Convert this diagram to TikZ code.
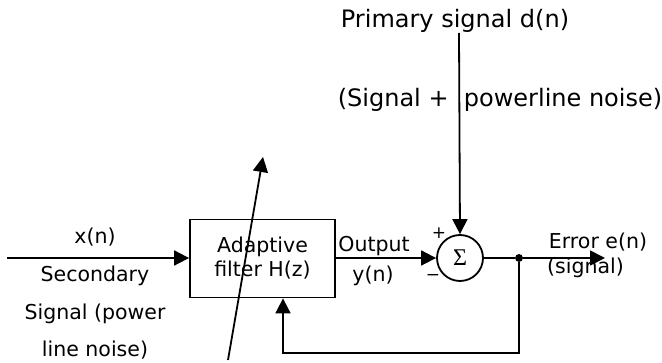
\documentclass[tikz,border=0pt]{standalone}
\usepackage{fontspec}
\setmainfont{DejaVu Sans}
\newfontfamily\sigmafont{Liberation Serif}
\usetikzlibrary{positioning,arrows.meta}

\begin{document}
\begin{tikzpicture}[x=1pt, y=-1pt,
        font=\fontsize{20.5}{24}\selectfont,
        block/.style={rectangle, draw, line width=1.8pt, minimum width=145pt, minimum height=78pt, align=center},
        summer/.style={circle, draw, line width=1.8pt, minimum size=46pt, inner sep=0pt},
        arrow/.style={-{Triangle[length=15pt, width=15pt]}, line width=1.8pt},
        lbl/.style={inner sep=0pt},
        toplbl/.style={inner sep=0pt, font=\fontsize{24}{28}\selectfont}
    ]
        \useasboundingbox (0,0) rectangle (662,363);

        \node[block] (filt) at (262.5,258.5) {Adaptive\\filter H(z)};
        \node[summer] (sum) at (460,258) {\sigmafont\fontsize{24}{24}\selectfont Σ};
        \node[circle, fill, inner sep=2.8pt] (jn) at (519,258) {};

        \coordinate (in) at (7,258);
        \coordinate (err) at (605,258);
        \coordinate (prim) at (459,33);
        \coordinate (fb) at (283,353);
        \coordinate (adl) at (228,360);
        \coordinate (adu) at (263,157);

        \draw[arrow] (in) -- (in -| filt.west);
        \draw[arrow] (filt.east |- sum) -- (sum.west);
        \draw[arrow] (prim) -- (sum.north);
        \draw[line width=1.8pt] (sum.east) -- (jn);
        \draw[arrow] (jn) -- (err);
        \draw[arrow] (jn) |- (fb) -- (fb |- filt.south);
        \draw[arrow] (adl) -- (adu);

        \node[lbl] (xn) at (95,237) {x(n)};
        \node[lbl, align=center, font=\fontsize{20.5}{37.5}\selectfont] (sec) at (95,313) {Secondary\\Signal (power\\line noise)};
        \node[lbl] (outp) at (374,246) {Output};
        \node[lbl] (yn) at (373,276) {y(n)};
        \node[lbl, font=\fontsize{17}{17}\selectfont] (plus) at (439,233) {+};
        \node[lbl, font=\fontsize{17}{17}\selectfont] (minus) at (433,277) {−};
        \node[toplbl] (prname) at (455,21) {Primary signal d(n)};
        \node[toplbl] (prnote) at (500,100) {(Signal + \ powerline noise)};
        \node[lbl] (errn) at (598,242) {Error e(n)};
        \node[lbl, anchor=west] (errs) at (547,268) {(signal)};
    \end{tikzpicture}
\end{document}
